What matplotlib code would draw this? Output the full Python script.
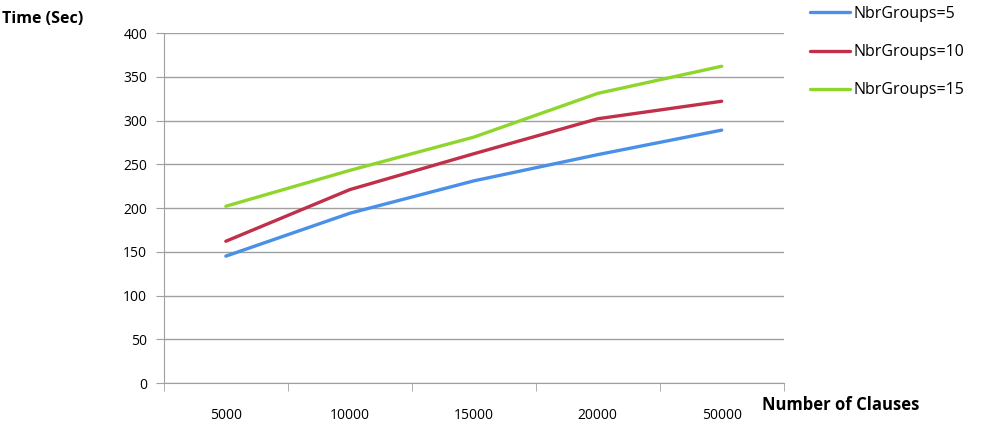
import numpy as np
import matplotlib.pyplot as plt

categories = ['5000', '10000', '15000', '20000', '50000']
groups5 = [145, 194, 231, 261, 289]
groups10 = [162, 221, 262, 302, 322]
groups15 = [202, 243, 281, 331, 362]
labels = ['NbrGroups=5', 'NbrGroups=10', 'NbrGroups=15']
colors = ['#4a90e8', '#c0304a', '#8fd62c']

plt.rcParams['font.family'] = ['Open Sans', 'DejaVu Sans']

fig = plt.figure(figsize=(9.87, 4.32), dpi=100)
ax = fig.add_axes([0.166, 0.1134, 0.628, 0.8102])

x = np.arange(len(categories))
for vals, lab, col in zip([groups5, groups10, groups15], labels, colors):
    ax.plot(x, vals, color=col, lw=2.4, label=lab, solid_capstyle='round')

ax.set_xlim(-0.5, len(categories) - 0.5)
ax.set_ylim(0, 400)
ax.set_yticks(np.arange(0, 401, 50))
ax.yaxis.grid(True, color='#a0a0a0', lw=1.0)
ax.set_axisbelow(True)

ax.set_xticks(x)
ax.set_xticklabels(categories, fontsize=10)
ax.set_xticks(np.arange(-0.5, len(categories)), minor=True)
ax.tick_params(axis='x', which='major', length=0, pad=18)
ax.tick_params(axis='x', which='minor', length=6, color='#a0a0a0', direction='out')
ax.tick_params(axis='y', length=6, color='#a0a0a0', labelsize=10, pad=6)

for side in ['top', 'right']:
    ax.spines[side].set_visible(False)
for side in ['left', 'bottom']:
    ax.spines[side].set_color('#a0a0a0')

fig.text(0.002, 0.955, 'Time (Sec)', fontsize=11.5, fontweight='bold', va='center')
fig.text(0.772, 0.063, 'Number of Clauses', fontsize=12, fontweight='bold', va='center')

fig.legend(loc='upper left', bbox_to_anchor=(0.806, 1.02), frameon=False,
           fontsize=11.5, handlelength=2.5, handletextpad=0.2, labelspacing=1.4)

plt.savefig('out.png', dpi=100)
plt.close()
